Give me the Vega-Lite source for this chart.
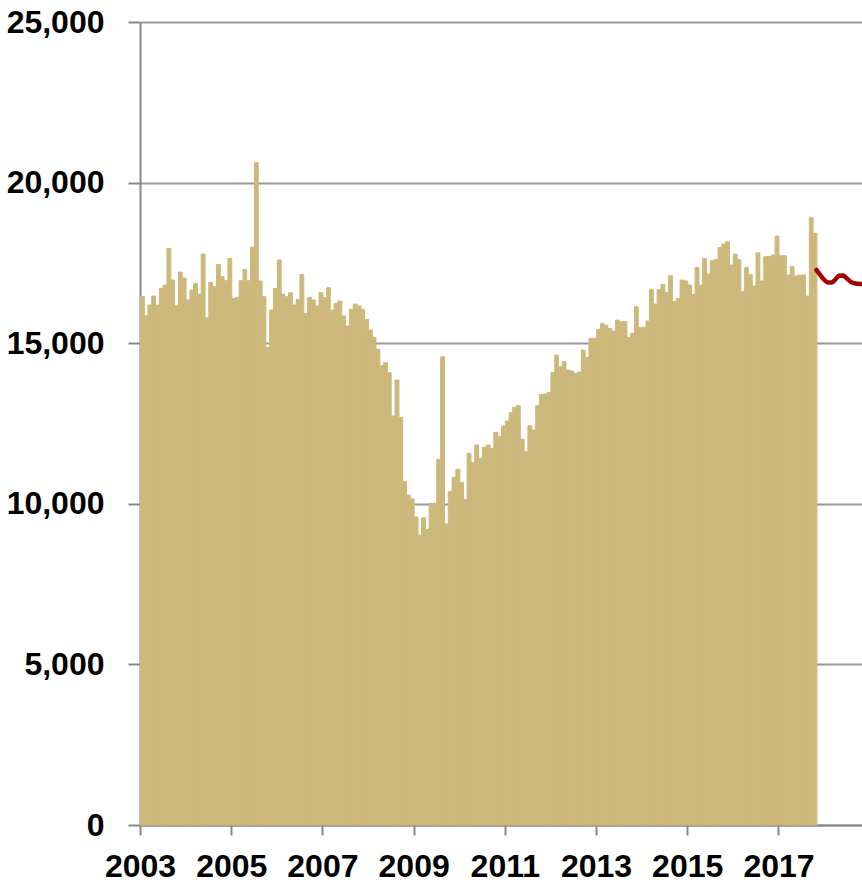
{
  "$schema": "https://vega.github.io/schema/vega-lite/v6.json",
  "width": 722,
  "height": 803,
  "autosize": {"type": "none"},
  "padding": {"left": 140, "top": 22, "right": 0, "bottom": 61},
  "background": "white",
  "config": {
    "view": {"stroke": null},
    "axis": {
      "labelFont": "Liberation Sans",
      "labelFontWeight": "bold",
      "labelFontSize": 32,
      "labelColor": "#000000",
      "domainColor": "#888888",
      "domainWidth": 2,
      "tickColor": "#888888",
      "tickWidth": 2,
      "gridColor": "#999999",
      "gridWidth": 2,
      "title": null
    }
  },
  "datasets": {
    "sales": [
      {"date":"2003-01-01","v":16447},{"date":"2003-02-01","v":15856},{"date":"2003-03-01","v":16188},{"date":"2003-04-01","v":16468},{"date":"2003-05-01","v":16188},{"date":"2003-06-01","v":16706},{"date":"2003-07-01","v":16810},{"date":"2003-08-01","v":17952},{"date":"2003-09-01","v":16966},{"date":"2003-10-01","v":16167},{"date":"2003-11-01","v":17215},{"date":"2003-12-01","v":17028},
      {"date":"2004-01-01","v":16343},{"date":"2004-02-01","v":16655},{"date":"2004-03-01","v":16862},{"date":"2004-04-01","v":16530},{"date":"2004-05-01","v":17775},{"date":"2004-06-01","v":15793},{"date":"2004-07-01","v":16893},{"date":"2004-08-01","v":16758},{"date":"2004-09-01","v":17454},{"date":"2004-10-01","v":17070},{"date":"2004-11-01","v":16945},{"date":"2004-12-01","v":17640},
      {"date":"2005-01-01","v":16395},{"date":"2005-02-01","v":16426},{"date":"2005-03-01","v":16945},{"date":"2005-04-01","v":17298},{"date":"2005-05-01","v":16945},{"date":"2005-06-01","v":17993},{"date":"2005-07-01","v":20618},{"date":"2005-08-01","v":16935},{"date":"2005-09-01","v":16447},{"date":"2005-10-01","v":14870},{"date":"2005-11-01","v":16032},{"date":"2005-12-01","v":16706},
      {"date":"2006-01-01","v":17588},{"date":"2006-02-01","v":16530},{"date":"2006-03-01","v":16447},{"date":"2006-04-01","v":16572},{"date":"2006-05-01","v":16188},{"date":"2006-06-01","v":16364},{"date":"2006-07-01","v":17142},{"date":"2006-08-01","v":15928},{"date":"2006-09-01","v":16426},{"date":"2006-10-01","v":16343},{"date":"2006-11-01","v":16156},{"date":"2006-12-01","v":16572},
      {"date":"2007-01-01","v":16416},{"date":"2007-02-01","v":16737},{"date":"2007-03-01","v":16032},{"date":"2007-04-01","v":16240},{"date":"2007-05-01","v":16312},{"date":"2007-06-01","v":15845},{"date":"2007-07-01","v":15534},{"date":"2007-08-01","v":16053},{"date":"2007-09-01","v":16219},{"date":"2007-10-01","v":16156},{"date":"2007-11-01","v":16053},{"date":"2007-12-01","v":15742},
      {"date":"2008-01-01","v":15409},{"date":"2008-02-01","v":15181},{"date":"2008-03-01","v":14808},{"date":"2008-04-01","v":14299},{"date":"2008-05-01","v":14392},{"date":"2008-06-01","v":14081},{"date":"2008-07-01","v":12732},{"date":"2008-08-01","v":13853},{"date":"2008-09-01","v":12691},{"date":"2008-10-01","v":10688},{"date":"2008-11-01","v":10273},{"date":"2008-12-01","v":10148},
      {"date":"2009-01-01","v":9588},{"date":"2009-02-01","v":9028},{"date":"2009-03-01","v":9567},{"date":"2009-04-01","v":9204},{"date":"2009-05-01","v":10014},{"date":"2009-06-01","v":10014},{"date":"2009-07-01","v":11383},{"date":"2009-08-01","v":14579},{"date":"2009-09-01","v":9370},{"date":"2009-10-01","v":10377},{"date":"2009-11-01","v":10823},{"date":"2009-12-01","v":11072},
      {"date":"2010-01-01","v":10667},{"date":"2010-02-01","v":10138},{"date":"2010-03-01","v":11570},{"date":"2010-04-01","v":11279},{"date":"2010-05-01","v":11829},{"date":"2010-06-01","v":11414},{"date":"2010-07-01","v":11760},{"date":"2010-08-01","v":11829},{"date":"2010-09-01","v":11726},{"date":"2010-10-01","v":12224},{"date":"2010-11-01","v":12089},{"date":"2010-12-01","v":12421},
      {"date":"2011-01-01","v":12577},{"date":"2011-02-01","v":12836},{"date":"2011-03-01","v":13002},{"date":"2011-04-01","v":13054},{"date":"2011-05-01","v":12006},{"date":"2011-06-01","v":11621},{"date":"2011-07-01","v":12431},{"date":"2011-08-01","v":12296},{"date":"2011-09-01","v":13054},{"date":"2011-10-01","v":13407},{"date":"2011-11-01","v":13417},{"date":"2011-12-01","v":13469},
      {"date":"2012-01-01","v":14081},{"date":"2012-02-01","v":14631},{"date":"2012-03-01","v":14268},{"date":"2012-04-01","v":14424},{"date":"2012-05-01","v":14164},{"date":"2012-06-01","v":14133},{"date":"2012-07-01","v":14060},{"date":"2012-08-01","v":14102},{"date":"2012-09-01","v":14787},{"date":"2012-10-01","v":14559},{"date":"2012-11-01","v":15150},{"date":"2012-12-01","v":15150},
      {"date":"2013-01-01","v":15430},{"date":"2013-02-01","v":15617},{"date":"2013-03-01","v":15565},{"date":"2013-04-01","v":15461},{"date":"2013-05-01","v":15378},{"date":"2013-06-01","v":15721},{"date":"2013-07-01","v":15669},{"date":"2013-08-01","v":15669},{"date":"2013-09-01","v":15181},{"date":"2013-10-01","v":15305},{"date":"2013-11-01","v":16136},{"date":"2013-12-01","v":15481},
      {"date":"2014-01-01","v":15500},{"date":"2014-02-01","v":15690},{"date":"2014-03-01","v":16675},{"date":"2014-04-01","v":16219},{"date":"2014-05-01","v":16675},{"date":"2014-06-01","v":16831},{"date":"2014-07-01","v":16572},{"date":"2014-08-01","v":17101},{"date":"2014-09-01","v":16292},{"date":"2014-10-01","v":16395},{"date":"2014-11-01","v":16966},{"date":"2014-12-01","v":16935},
      {"date":"2015-01-01","v":16810},{"date":"2015-02-01","v":16520},{"date":"2015-03-01","v":17360},{"date":"2015-04-01","v":16810},{"date":"2015-05-01","v":17640},{"date":"2015-06-01","v":17153},{"date":"2015-07-01","v":17568},{"date":"2015-08-01","v":17609},{"date":"2015-09-01","v":17983},{"date":"2015-10-01","v":18087},{"date":"2015-11-01","v":18159},{"date":"2015-12-01","v":17433},
      {"date":"2016-01-01","v":17775},{"date":"2016-02-01","v":17609},{"date":"2016-03-01","v":16603},{"date":"2016-04-01","v":17360},{"date":"2016-05-01","v":17142},{"date":"2016-06-01","v":16779},{"date":"2016-07-01","v":17817},{"date":"2016-08-01","v":16935},{"date":"2016-09-01","v":17692},{"date":"2016-10-01","v":17700},{"date":"2016-11-01","v":17744},{"date":"2016-12-01","v":18336},
      {"date":"2017-01-01","v":17723},{"date":"2017-02-01","v":17723},{"date":"2017-03-01","v":17122},{"date":"2017-04-01","v":17381},{"date":"2017-05-01","v":17091},{"date":"2017-06-01","v":17122},{"date":"2017-07-01","v":17122},{"date":"2017-08-01","v":16468},{"date":"2017-09-01","v":18917},{"date":"2017-10-01","v":18420}
    ],
    "forecast": [
      {"date":"2017-11-01","v":17280},{"date":"2017-12-01","v":17130},{"date":"2018-01-01","v":16980},{"date":"2018-02-01","v":16890},{"date":"2018-03-01","v":16890},{"date":"2018-04-01","v":16980},{"date":"2018-05-01","v":17100},{"date":"2018-06-01","v":17110},{"date":"2018-07-01","v":17020},{"date":"2018-08-01","v":16920},{"date":"2018-09-01","v":16865},{"date":"2018-10-01","v":16850},{"date":"2018-11-01","v":16840},{"date":"2018-12-01","v":16850}
    ]
  },
  "encoding": {
    "x": {
      "field": "date",
      "timeUnit": "utcyearmonth",
      "type": "temporal",
      "scale": {"type": "utc", "domain": [{"year": 2003, "month": 1, "date": 1, "utc": true}, {"year": 2018, "month": 11, "date": 1, "utc": true}]},
      "axis": {
        "format": "%Y",
        "values": [
          {"year": 2003, "month": 1, "date": 1, "utc": true},
          {"year": 2005, "month": 1, "date": 1, "utc": true},
          {"year": 2007, "month": 1, "date": 1, "utc": true},
          {"year": 2009, "month": 1, "date": 1, "utc": true},
          {"year": 2011, "month": 1, "date": 1, "utc": true},
          {"year": 2013, "month": 1, "date": 1, "utc": true},
          {"year": 2015, "month": 1, "date": 1, "utc": true},
          {"year": 2017, "month": 1, "date": 1, "utc": true}
        ],
        "grid": false,
        "tickSize": 10,
        "labelPadding": 16,
        "labelOverlap": false,
        "labelFlush": false
      }
    },
    "y": {
      "field": "v",
      "type": "quantitative",
      "scale": {"domain": [0, 25000], "nice": false},
      "axis": {
        "values": [0, 5000, 10000, 15000, 20000, 25000],
        "format": ",.0f",
        "tickSize": 12,
        "labelPadding": 24,
        "grid": true
      }
    }
  },
  "layer": [
    {
      "data": {"name": "sales"},
      "mark": {"type": "bar", "color": "#CDB87C", "stroke": "#CDB87C", "strokeWidth": 1, "binSpacing": 0}
    },
    {
      "data": {"name": "forecast"},
      "mark": {"type": "line", "color": "#A30000", "strokeWidth": 4.5, "interpolate": "monotone", "clip": true, "strokeCap": "round"}
    }
  ]
}
